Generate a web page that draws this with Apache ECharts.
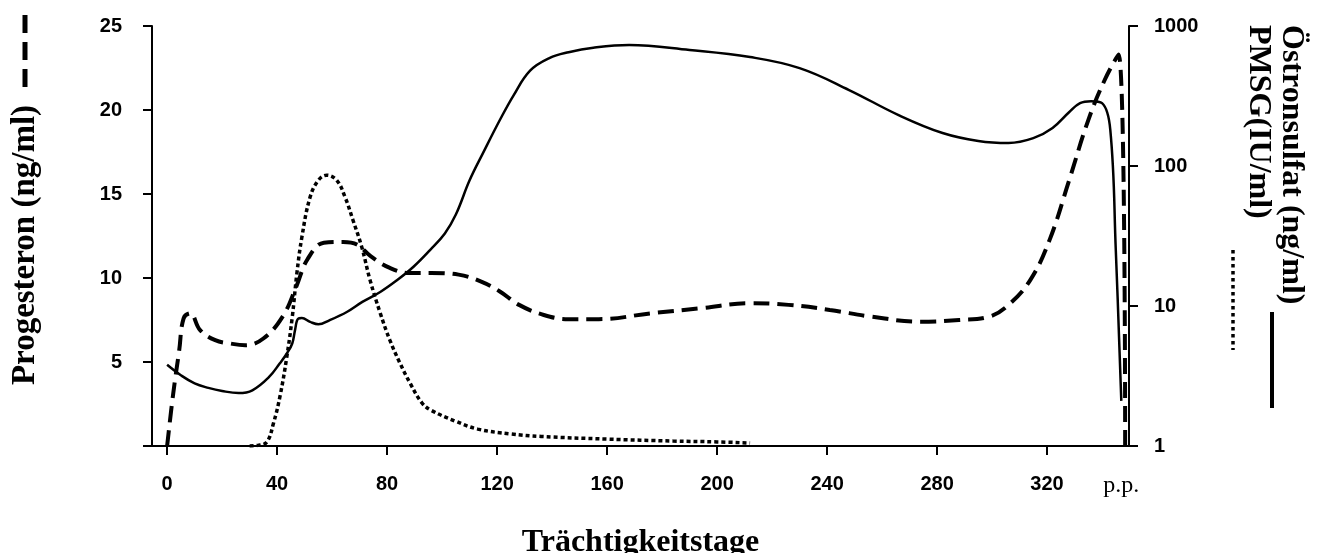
<!DOCTYPE html>
<html>
<head>
<meta charset="utf-8">
<script src="https://cdn.jsdelivr.net/npm/echarts@6/dist/echarts.min.js"></script>
<style>
  html, body { margin: 0; padding: 0; background: #fff; }
  #chart { width: 1328px; height: 553px; }
</style>
</head>
<body>
<div id="chart"></div>
<script>
// ---- data (days of pregnancy) ----
const progDays = [0, 2.2, 4.4, 6, 8.4, 12, 17.5, 23, 28.4, 35, 42, 47, 51, 57, 64, 69, 74, 81, 88, 96, 106, 114, 121, 128, 137, 146, 157, 176, 194, 212, 226, 241, 256, 274, 288, 299, 306, 314, 321, 328, 335, 341, 346, 348.4];
const progesteron = [0, 3.1, 5.7, 7.6, 7.9, 6.9, 6.3, 6.1, 6.0, 6.4, 7.7, 9.5, 11.1, 12.1, 12.15, 12.0, 11.3, 10.6, 10.3, 10.3, 10.2, 9.8, 9.2, 8.4, 7.8, 7.55, 7.55, 7.9, 8.2, 8.5, 8.4, 8.1, 7.7, 7.4, 7.5, 7.7, 8.4, 9.9, 12.3, 15.8, 19.4, 21.8, 23.3, 0];

const oestDays = [0, 5, 10, 15, 20, 26, 31, 37, 41, 43.6, 45.5, 46.5, 47.6, 49, 52, 55, 59, 65.5, 71, 77.5, 83.6, 89.5, 95.6, 101, 105, 110, 115, 121, 126, 132, 139, 146, 155, 168, 190, 212, 230, 248, 266, 282, 295, 306, 315, 322, 328, 332, 336, 340, 343, 345, 347];
const oestronsulfat = [3.8, 3.2, 2.8, 2.6, 2.47, 2.39, 2.5, 3.1, 3.9, 4.6, 5.4, 6.7, 8.1, 8.2, 7.7, 7.4, 7.9, 9.1, 10.7, 12.6, 15.3, 19.0, 25.1, 33, 45, 79, 125, 213, 320, 480, 590, 650, 700, 732, 675, 600, 500, 349, 231, 172, 151, 146, 158, 187, 242, 281, 290, 281, 181, 25, 2.1];

const pmsgDays = [30, 33, 36.3, 38.7, 41, 43.5, 45.5, 47.2, 49, 52, 55, 58, 61.7, 64.7, 67.6, 70.8, 73.8, 77.5, 81, 84.7, 88.4, 92.7, 96, 105, 113, 125, 136, 160, 184, 200, 212];
const pmsg = [1.0, 1.01, 1.07, 1.46, 2.24, 4.3, 8.3, 17.2, 31, 60, 79, 86, 79, 60, 41, 26.3, 15.3, 8.9, 5.7, 3.9, 2.8, 2.03, 1.8, 1.5, 1.32, 1.22, 1.17, 1.12, 1.085, 1.07, 1.05];

const xTicks = [0, 40, 80, 120, 160, 200, 240, 280, 320];
const ppPos = 347;
const ppText = 'p.p.';

const xTitle = 'Trächtigkeitstage';
const leftTitle = 'Progesteron (ng/ml)';
const rightTitle1 = 'Östronsulfat (ng/ml)';
const rightTitle2 = 'PMSG(IU/ml)';

function zip(xs, ys) { return xs.map((x, i) => [x, ys[i]]); }

const SANS = '"Liberation Sans", Arial, sans-serif';
const SERIF = '"Liberation Serif", "Times New Roman", serif';

const chart = echarts.init(document.getElementById('chart'));
chart.setOption({
  animation: false,
  backgroundColor: '#fff',
  grid: { left: 152, right: 199, top: 26, bottom: 107, containLabel: false, outerBoundsMode: 'none' },
  xAxis: {
    type: 'value',
    min: -5.5,
    max: 349.8,
    splitLine: { show: false },
    axisLine: { onZero: false, lineStyle: { color: '#000', width: 2 } },
    axisTick: { show: true, customValues: xTicks, length: 9, lineStyle: { color: '#000', width: 2 } },
    axisLabel: {
      customValues: xTicks.concat([ppPos]),
      margin: 28,
      color: '#000',
      fontFamily: SANS,
      fontWeight: 'bold',
      fontSize: 20,
      formatter: function (v) { return v === ppPos ? '{pp|' + ppText + '}' : String(v); },
      rich: { pp: { fontFamily: SERIF, fontWeight: 'normal', fontSize: 24, color: '#000' } }
    },
    name: xTitle,
    nameLocation: 'middle',
    nameGap: 81,
    nameTextStyle: { fontFamily: SERIF, fontWeight: 'bold', fontSize: 32, color: '#000' }
  },
  yAxis: [
    {
      type: 'value',
      position: 'left',
      min: 0, max: 25, interval: 5,
      splitLine: { show: false },
      axisLine: { show: true, onZero: false, lineStyle: { color: '#000', width: 2 } },
      axisTick: { show: true, length: 9, lineStyle: { color: '#000', width: 2 } },
      axisLabel: {
        margin: 30, color: '#000', fontFamily: SANS, fontWeight: 'bold', fontSize: 20,
        formatter: function (v) { return v === 0 ? '' : String(v); }
      }
    },
    {
      type: 'log',
      logBase: 10,
      position: 'right',
      min: 1, max: 1000,
      splitLine: { show: false },
      minorTick: { show: false },
      axisLine: { show: true, onZero: false, lineStyle: { color: '#000', width: 2 } },
      axisTick: { show: true, length: 9, lineStyle: { color: '#000', width: 2 } },
      axisLabel: {
        margin: 25, color: '#000', fontFamily: SANS, fontWeight: 'bold', fontSize: 20,
        formatter: function (v) { return String(Math.round(v)); }
      }
    }
  ],
  series: [
    {
      name: 'Progesteron', type: 'line', yAxisIndex: 0, data: zip(progDays, progesteron),
      showSymbol: false, smooth: 0.4, z: 3,
      lineStyle: { color: '#000', width: 4, type: [16, 8], cap: 'butt' }
    },
    {
      name: 'Östronsulfat', type: 'line', yAxisIndex: 1, data: zip(oestDays, oestronsulfat),
      showSymbol: false, smooth: 0.4, z: 4,
      lineStyle: { color: '#000', width: 2.5, type: 'solid' }
    },
    {
      name: 'PMSG', type: 'line', yAxisIndex: 1, data: zip(pmsgDays, pmsg),
      showSymbol: false, smooth: 0.4, z: 2,
      lineStyle: { color: '#000', width: 3.5, type: [4, 3], cap: 'butt' }
    }
  ],
  graphic: [
    { type: 'text', x: 25, y: 245, rotation: Math.PI / 2,
      style: { text: leftTitle, font: 'bold 33px ' + SERIF, fill: '#000', align: 'center', verticalAlign: 'middle' } },
    { type: 'line', shape: { x1: 25, y1: 15, x2: 25, y2: 87 },
      style: { stroke: '#000', lineWidth: 5, lineDash: [18, 9] } },
    { type: 'text', x: 1291, y: 25, rotation: -Math.PI / 2,
      style: { text: rightTitle1, font: 'bold 32px ' + SERIF, fill: '#000', align: 'left', verticalAlign: 'middle' } },
    { type: 'text', x: 1258, y: 25, rotation: -Math.PI / 2,
      style: { text: rightTitle2, font: 'bold 32px ' + SERIF, fill: '#000', align: 'left', verticalAlign: 'middle' } },
    { type: 'line', shape: { x1: 1233, y1: 250, x2: 1233, y2: 350 },
      style: { stroke: '#000', lineWidth: 3.5, lineDash: [3.5, 3.5] } },
    { type: 'line', shape: { x1: 1272, y1: 312, x2: 1272, y2: 408 },
      style: { stroke: '#000', lineWidth: 4 } }
  ]
});
</script>
</body>
</html>
